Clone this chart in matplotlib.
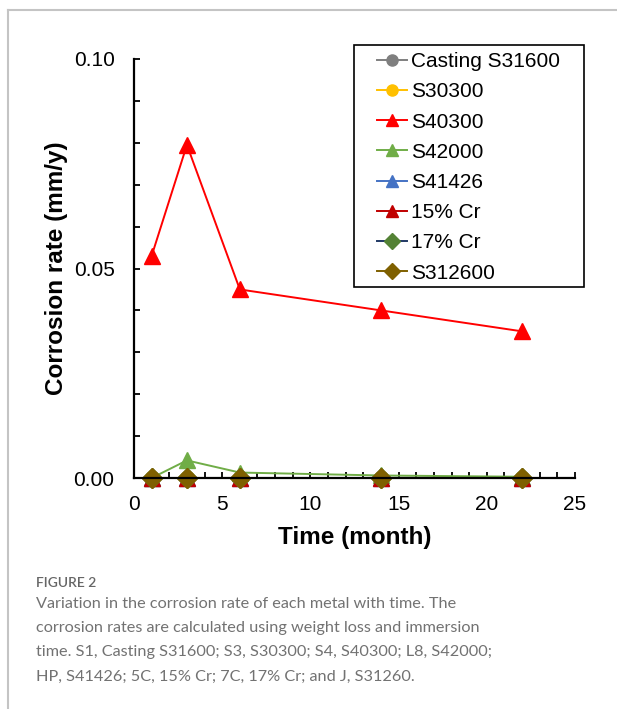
import matplotlib
matplotlib.use("Agg")
import matplotlib.pyplot as plt
from matplotlib.lines import Line2D
from matplotlib.patches import Rectangle
from matplotlib.ticker import MultipleLocator, FormatStrFormatter

months = [1, 3, 6, 14, 22]

casting_s31600 = [0, 0, 0, 0, 0]
s30300 = [0, 0, 0, 0, 0]
s40300 = [0.053, 0.0795, 0.045, 0.040, 0.035]
s42000 = [0, 0.0042, 0.0013, 0.0006, 0.0003]
s41426 = [0, 0, 0, 0, 0]
cr15 = [0, 0, 0, 0, 0]
cr17 = [0, 0, 0, 0, 0]
s312600 = [0, 0, 0, 0, 0]

labels = ["Casting S31600", "S30300", "S40300", "S42000",
          "S41426", "15% Cr", "17% Cr", "S312600"]
series = [casting_s31600, s30300, s40300, s42000, s41426, cr15, cr17, s312600]
line_colors = ["#7f7f7f", "#ffc000", "#ff0000", "#70ad47",
               "#4472c4", "#c00000", "#203864", "#7f6000"]
face_colors = ["#7f7f7f", "#ffc000", "#ff0000", "#70ad47",
               "#4472c4", "#c00000", "#548235", "#7f6000"]
markers = ["o", "o", "^", "^", "^", "^", "D", "D"]
sizes = [10, 10, 11, 11, 11, 11, 10, 10]

caption_title = "FIGURE 2"
caption_text = ("Variation in the corrosion rate of each metal with time. The\n"
                "corrosion rates are calculated using weight loss and immersion\n"
                "time. S1, Casting S31600; S3, S30300; S4, S40300; L8, S42000;\n"
                "HP, S41426; 5C, 15% Cr; 7C, 17% Cr; and J, S31260.")

FONT = "Liberation Sans"
W, H = 617, 709
fig = plt.figure(figsize=(W / 100, H / 100), dpi=100, facecolor="white")
ax = fig.add_axes([134 / W, 1 - 478 / H, (575 - 134) / W, (478 - 59) / H])

for vals, lab, lc, fc, m, ms in zip(series, labels, line_colors, face_colors, markers, sizes):
    ax.plot(months, vals, color=lc, lw=1.4, marker=m, ms=ms,
            markerfacecolor=fc, markeredgecolor=fc, label=lab, clip_on=False)

ax.set_xlim(0, 25)
ax.set_ylim(0, 0.10)
ax.xaxis.set_major_locator(MultipleLocator(5))
ax.xaxis.set_minor_locator(MultipleLocator(1))
ax.yaxis.set_major_locator(MultipleLocator(0.05))
ax.yaxis.set_minor_locator(MultipleLocator(0.01))
ax.yaxis.set_major_formatter(FormatStrFormatter("%.2f"))
ax.spines["top"].set_visible(False)
ax.spines["right"].set_visible(False)
for s in ("left", "bottom"):
    ax.spines[s].set_linewidth(1.6)
ax.tick_params(which="both", direction="in", length=4, width=1.3, colors="black")
ax.tick_params(axis="y", labelsize=15, pad=14)
ax.tick_params(axis="x", labelsize=15, pad=12)
for t in ax.get_xticklabels() + ax.get_yticklabels():
    t.set_family(FONT)

ax.set_xlabel("Time (month)", fontsize=17.5, fontweight="bold", labelpad=9, family=FONT)
ax.set_ylabel("Corrosion rate (mm/y)", fontsize=17.5, fontweight="bold", labelpad=4,
              family=FONT)

# legend without its own frame; the box is drawn separately
leg = ax.legend(loc="upper left",
                bbox_to_anchor=(377 / W, 1 - 52 / H), bbox_transform=fig.transFigure,
                frameon=False, handlelength=1.45, handletextpad=0.2,
                labelspacing=0.54, borderpad=0, borderaxespad=0, markerscale=0.8,
                prop={"family": FONT, "size": 15})
fig.add_artist(Rectangle((354 / W, 1 - 287 / H), (584 - 354) / W, (287 - 45) / H,
                         transform=fig.transFigure, fill=False, edgecolor="black",
                         lw=1.2))

# page frame lines
fig.add_artist(Line2D([8 / W, 1], [1 - 10 / H, 1 - 10 / H], color="#c4c4c4", lw=1.5,
                      transform=fig.transFigure))
fig.add_artist(Line2D([8 / W, 8 / W], [0, 1 - 10 / H], color="#c4c4c4", lw=1.5,
                      transform=fig.transFigure))

fig.text(36 / W, 1 - 583 / H, caption_title, fontsize=10, color="#666666",
         fontweight="semibold", family="Lato", va="center")
fig.text(36 / W, 1 - 597 / H, caption_text, fontsize=11.7, color="#727272",
         family="Lato", va="top", linespacing=1.93)

fig.savefig("out.png", dpi=100, facecolor="white")
